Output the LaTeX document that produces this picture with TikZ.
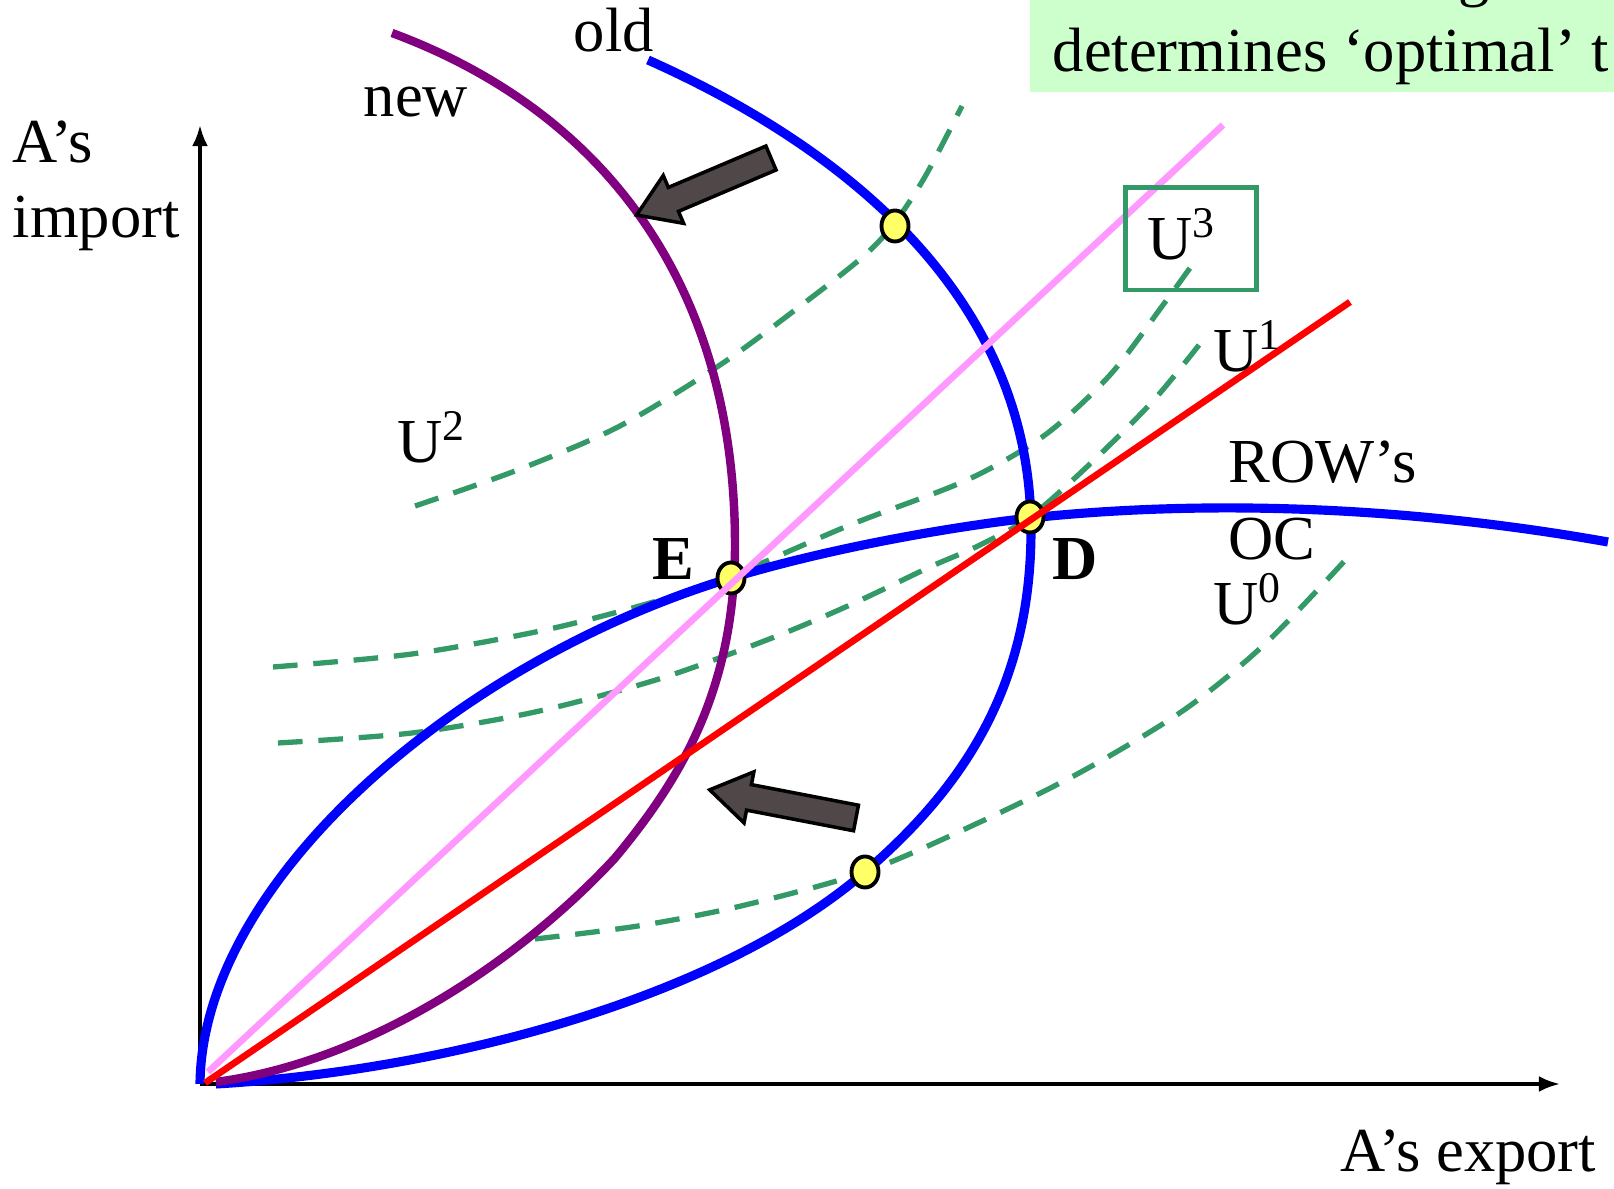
\documentclass[tikz,border=0pt]{standalone}
\usepackage{fontspec}
\setmainfont{Liberation Serif}
\usetikzlibrary{arrows.meta, shapes.geometric}

\definecolor{ocblue}{RGB}{0,0,255}
\definecolor{ocpurple}{RGB}{128,0,128}
\definecolor{raypink}{RGB}{255,153,255}
\definecolor{icgreen}{RGB}{51,153,102}
\definecolor{notegreen}{RGB}{204,255,204}
\definecolor{dotyellow}{RGB}{255,255,102}
\definecolor{shiftgray}{RGB}{80,72,72}

\begin{document}
\begin{tikzpicture}[
    x=0.01cm, y=-0.01cm,
    font=\fontsize{17.8}{21}\selectfont,
    lbl/.style={inner sep=0pt, anchor=base west},
    axis/.style={-{Latex[length=6pt, width=4.5pt]}, line width=1pt},
    oc/.style={line width=2.6pt, color=ocblue},
    ocnew/.style={line width=2.4pt, color=ocpurple},
    ray/.style={line width=1.9pt},
    indiff/.style={line width=1.5pt, color=icgreen, dash pattern=on 7pt off 4.5pt},
    eqdot/.style={ellipse, draw, line width=1.1pt, fill=dotyellow, minimum width=0.27cm, minimum height=0.31cm, inner sep=0pt},
    shiftarrow/.style={draw, line width=1pt, fill=shiftgray, line join=miter},
    ubox/.style={draw=icgreen, line width=1.4pt, minimum width=1.31cm, minimum height=1.02cm}
]
\useasboundingbox (0,0) rectangle (1614,1189);
\clip (0,0) rectangle (1614,1189);

% note box (cut off at the top right)
\fill[notegreen] (1030,0) rectangle (1614,92);
\node[lbl] (noteTop) at (1458,-5) {g};
\node[lbl] (noteText) at (1052,72) {determines ‘optimal’ t};

% axes
\coordinate (O) at (200,1084);
\coordinate (xend) at (1560,1084);
\coordinate (yend) at (200,125);
\draw[axis] (O) -- (xend);
\draw[axis] (O) -- (yend);

% indifference curves
\draw[indiff] plot[smooth] coordinates {(415,506) (515,471) (618,427) (720,365) (803,304) (865,255) (896,221) (926,175) (962,106)};
\draw[indiff] plot[smooth] coordinates {(273,667) (412,654) (545,630) (650,603) (731,576) (850,525) (967,480) (1045,435) (1110,375) (1163,305) (1190,268)};
\draw[indiff] plot[smooth] coordinates {(278,743) (412,733) (535,712) (659,679) (772,638) (850,605) (930,567) (978,546) (1030,517) (1091,463) (1153,401) (1199,345)};
\draw[indiff] plot[smooth] coordinates {(535,939) (638,926) (741,906) (865,872) (978,823) (1081,772) (1184,710) (1266,643) (1351,554)};

% offer curves
\draw[oc] (O) .. controls (202,880) and (460,660) .. (731,578)
    .. controls (830,548) and (950,527) .. (1030,518)
    .. controls (1200,500) and (1400,505) .. (1608,542);
\draw[oc] (648,60) .. controls (850,150) and (1031,300) .. (1031,530)
    .. controls (1031,690) and (960,790) .. (865,872)
    .. controls (720,997) and (450,1070) .. (216,1084);
\draw[ocnew] (392,33) .. controls (600,110) and (735,280) .. (735,545)
    .. controls (735,690) and (680,780) .. (615,858)
    .. controls (530,950) and (380,1060) .. (216,1082);

% equilibrium points
\node[eqdot] (E) at (731,578) {};
\node[eqdot] (D) at (1030,517) {};
\node[eqdot] (top) at (895,226) {};
\node[eqdot] (bottom) at (865,872) {};

% rays from the origin
\coordinate (pinkA) at (208,1072);
\coordinate (pinkB) at (1223,125);
\coordinate (redA) at (205,1083);
\coordinate (redB) at (1350,302);
\draw[ray, raypink] (pinkA) -- (pinkB);
\draw[ray, red] (redA) -- (redB);

% shift arrows
\foreach \x/\y/\a/\l in {771/158/203/146, 856/818/169.1/149} {
    \draw[shiftarrow, shift={(\x,\y)}, rotate=\a]
        (0,-13) -- (\l-40,-13) -- (\l-40,-26) -- (\l,0) -- (\l-40,26) -- (\l-40,13) -- (0,13) -- cycle;
}

% labels
\node[ubox] (box3) at (1191,239) {};
\node[lbl] (u3) at (1147,260) {U\textsuperscript{3}};
\node[lbl] (u2) at (397,463) {U\textsuperscript{2}};
\node[lbl] (u1) at (1213,372) {U\textsuperscript{1}};
\node[lbl] (u0) at (1213,625) {U\textsuperscript{0}};
\node[lbl] (old) at (573,52) {old};
\node[lbl] (new) at (363,117) {new};
\node[lbl] (row) at (1228,483) {ROW’s};
\node[lbl] (rowOC) at (1228,560) {OC};
\node[lbl, font=\fontsize{17.8}{21}\selectfont\bfseries] (labE) at (652,580) {E};
\node[lbl, font=\fontsize{17.8}{21}\selectfont\bfseries] (labD) at (1052,580) {D};
\node[lbl] (yLab1) at (12,163) {A’s};
\node[lbl] (yLab2) at (12,238) {import};
\node[lbl] (xLab) at (1340,1172) {A’s export};

\end{tikzpicture}
\end{document}
